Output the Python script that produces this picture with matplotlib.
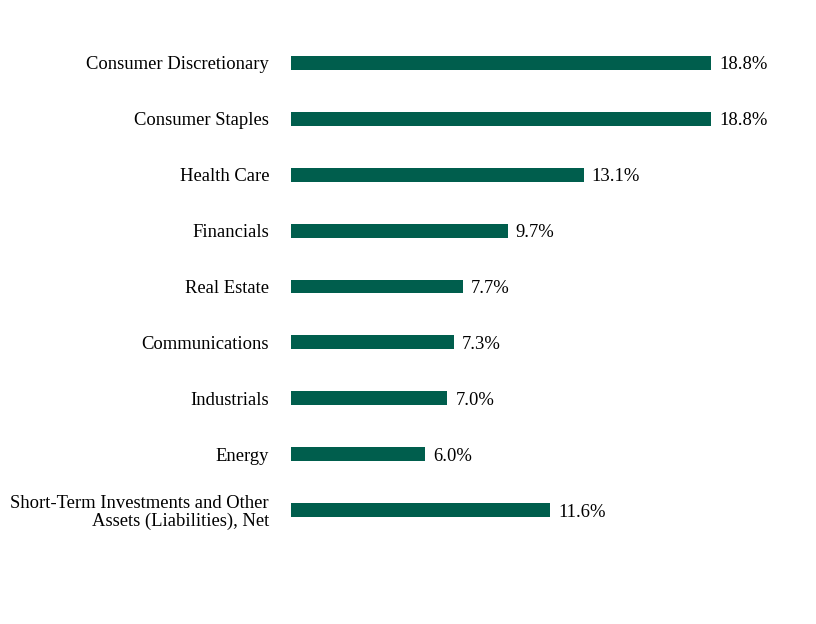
import matplotlib
matplotlib.use("Agg")
import matplotlib.pyplot as plt

categories = ["Consumer Discretionary", "Consumer Staples", "Health Care", "Financials",
              "Real Estate", "Communications", "Industrials", "Energy",
              "Short-Term Investments and Other\nAssets (Liabilities), Net"]
values = [18.8, 18.8, 13.1, 9.7, 7.7, 7.3, 7.0, 6.0, 11.6]
value_labels = ["18.8%", "18.8%", "13.1%", "9.7%", "7.7%", "7.3%", "7.0%", "6.0%", "11.6%"]

plt.rcParams['font.family'] = ['Liberation Serif', 'DejaVu Serif']
fig = plt.figure(figsize=(8.16, 6.24), dpi=100)
ax = fig.add_axes([291/816, 1-538/624, (780-291)/816, 503/624])
ypos = list(range(len(categories)))
ax.barh(ypos, values, height=0.25, color='#005E4D')
ax.set_ylim(len(categories)-0.5, -0.5)
ax.set_xlim(0, 489/22.34)
ax.set_yticks(ypos)
ax.set_yticklabels(categories, fontsize=13.4, linespacing=1.05)
ax.tick_params(axis='y', length=0, pad=15.8)
ax.set_xticks([])
for s in ax.spines.values():
    s.set_visible(False)
for y, v, t in zip(ypos, values, value_labels):
    ax.annotate(t, (v, y), xytext=(8, 0), textcoords='offset pixels',
                va='center_baseline', ha='left', fontsize=13.4)
fig.savefig("out.png", dpi=100)
